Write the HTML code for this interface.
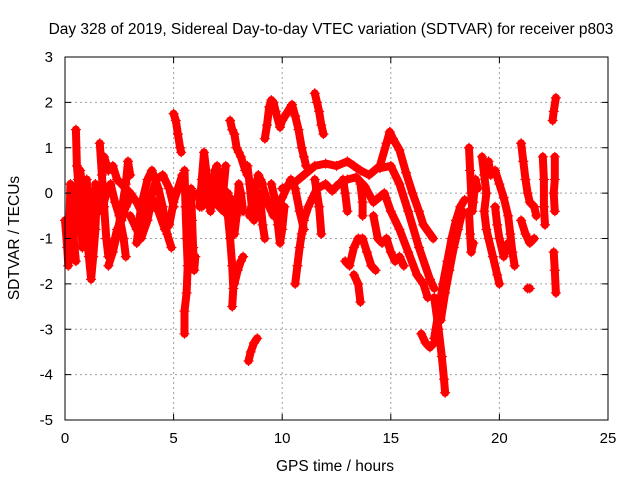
<!DOCTYPE html>
<html><head><meta charset="utf-8"><style>
body{margin:0;background:#fff}
svg{display:block;font-family:"Liberation Sans",sans-serif}
</style></head><body>
<svg id="chart" width="640" height="480" viewBox="0 0 640 480">
<text x="331" y="34" font-size="15.5" text-anchor="middle">Day 328 of 2019, Sidereal Day-to-day VTEC variation (SDTVAR) for receiver p803</text>
<text x="335" y="471" font-size="15.5" text-anchor="middle">GPS time / hours</text>
<text x="19" y="238" font-size="15.5" text-anchor="middle" transform="rotate(-90 19 238)">SDTVAR / TECUs</text>
<g id="grid"></g>
<g id="marks"></g>
<rect x="65" y="57" width="543" height="363" fill="none" stroke="#000" stroke-width="1"/>
<g id="ticks"></g>
</svg>
<script>
const xTicks=[0,5,10,15,20,25];
const yTicks=[-5,-4,-3,-2,-1,0,1,2,3];
const tracks=[
[[0.0,-0.6],[0.1,-1.2],[0.15,-1.6],[0.2,-0.8],[0.25,0.2],[0.3,-0.3],[0.4,-1.0],[0.5,-1.5]],
[[0.5,1.4],[0.55,0.6],[0.6,0.3],[0.65,-0.4],[0.7,-0.9],[0.6,-0.2],[0.7,0.5],[0.8,0.1],[0.75,-0.6],[0.8,-1.2]],
[[1.0,0.3],[1.05,-0.3],[1.0,-0.9],[1.1,-1.4],[1.2,-1.9],[1.3,-1.4],[1.4,-0.8],[1.45,-0.2],[1.4,0.2],[1.3,-0.5],[1.2,-1.0],[1.1,-0.5]],
[[1.6,1.1],[1.7,0.4],[1.8,-0.3],[1.9,-1.0],[2.0,-1.4],[2.2,-1.2],[2.4,-0.8],[2.6,-0.6],[2.8,-0.3],[3.0,-0.1]],
[[1.8,0.8],[2.0,0.5],[2.2,0.6],[2.4,0.3],[2.6,0.2],[2.8,0.1],[3.0,0.0]],
[[1.7,-0.4],[1.9,0.0],[2.1,0.2],[2.3,-0.2],[2.5,-0.5],[2.7,-1.0],[2.8,-1.4]],
[[2.0,-1.6],[2.2,-1.3],[2.4,-0.9],[2.6,-0.4],[2.8,0.2],[2.9,0.7],[3.0,0.4]],
[[3.0,0.0],[3.3,-0.2],[3.6,-0.5],[3.9,-0.2],[4.2,0.3],[4.5,0.4],[4.8,0.1],[5.0,-0.3]],
[[3.0,-0.5],[3.3,-0.8],[3.5,-1.0],[3.8,-0.6],[4.0,-0.1],[4.3,-0.4],[4.6,-0.8],[4.8,-0.7],[5.0,-0.2],[5.2,0.1],[5.4,0.4]],
[[3.3,-1.1],[3.5,-0.3],[3.8,0.3],[4.0,0.5],[4.3,0.1],[4.5,-0.3],[4.7,-0.9],[4.9,-1.2]],
[[5.0,1.75],[5.1,1.6],[5.2,1.3],[5.3,1.0],[5.35,0.9]],
[[5.5,0.5],[5.55,-0.3],[5.6,-1.0],[5.65,-1.6],[5.6,-2.2],[5.5,-2.6],[5.5,-3.1]],
[[5.8,0.1],[5.85,-0.6],[5.9,-1.2],[5.95,-1.7],[6.0,-1.4]],
[[6.2,-0.3],[6.3,0.3],[6.4,0.9],[6.5,0.5],[6.6,-0.1],[6.7,-0.4],[6.8,0.0],[6.9,0.5],[7.0,0.6],[7.1,0.2],[7.2,-0.2],[7.3,0.1],[7.4,0.6]],
[[6.1,0.0],[6.3,-0.3],[6.5,-0.2],[6.7,0.2],[6.9,-0.2],[7.1,-0.3],[7.3,-0.4],[7.5,0.0]],
[[7.6,1.6],[7.7,1.4],[7.8,1.3],[7.9,1.0],[8.0,0.9],[8.1,0.8],[8.3,0.5],[8.4,0.4]],
[[7.5,-0.5],[7.6,-1.0],[7.7,-1.6],[7.75,-2.1],[7.7,-2.5]],
[[7.6,-0.1],[7.7,-0.6],[7.8,-0.9],[7.9,-0.5],[8.0,0.2],[8.1,0.0],[8.2,-0.4]],
[[7.8,-2.0],[7.95,-1.7],[8.1,-1.5],[8.2,-1.4]],
[[8.45,-3.7],[8.55,-3.5],[8.7,-3.3],[8.85,-3.2]],
[[8.4,0.6],[8.5,0.2],[8.6,-0.3],[8.7,-0.6],[8.8,-0.3],[8.9,0.0],[9.0,-0.2],[9.1,-0.7],[9.2,-1.0]],
[[8.5,-0.5],[8.7,0.0],[8.9,0.4],[9.1,0.2]],
[[9.2,1.2],[9.3,1.5],[9.4,1.9],[9.5,2.05],[9.6,2.0],[9.7,1.8],[9.9,1.45],[10.0,1.6],[10.2,1.75],[10.45,1.95],[10.6,1.7],[10.75,1.4],[10.9,1.0],[11.0,0.8],[11.1,0.6]],
[[9.0,0.3],[9.2,0.0],[9.4,-0.3],[9.6,-0.5],[9.8,-0.3],[10.0,-0.1],[10.2,0.1],[10.4,0.3],[10.6,0.1],[10.8,-0.4],[11.0,-0.8]],
[[9.5,0.2],[9.7,-0.2],[9.8,-0.7],[9.9,-1.1],[10.0,-0.8],[10.1,-0.3]],
[[10.0,0.1],[10.5,0.2],[11.0,0.4],[11.5,0.6],[12.0,0.65],[12.5,0.6],[13.0,0.7],[13.3,0.6],[13.6,0.5],[14.0,0.4],[14.5,0.6],[14.8,1.1],[14.95,1.35],[15.1,1.2],[15.4,0.95],[15.7,0.45],[16.0,0.0],[16.3,-0.4],[16.5,-0.7],[16.95,-1.0]],
[[10.6,-2.0],[10.7,-1.6],[10.8,-1.2],[10.9,-0.9],[11.0,-0.6],[11.2,-0.3],[11.4,-0.1],[11.6,0.1],[12.0,0.2],[12.3,0.05],[12.6,0.2],[13.0,0.3],[13.4,0.35],[13.8,0.15],[14.2,-0.2],[14.7,0.0],[15.0,-0.4],[15.4,-0.8],[15.8,-1.3],[16.2,-1.8],[16.5,-2.0],[16.7,-2.3]],
[[14.5,0.55],[15.0,0.6],[15.4,0.2],[15.8,-0.4],[16.3,-1.2],[16.8,-1.9],[17.0,-2.1]],
[[14.2,-0.5],[14.4,-1.0],[14.6,-1.1],[14.8,-1.0],[15.0,-1.3],[15.2,-1.5],[15.4,-1.4],[15.6,-1.6]],
[[12.9,-1.5],[13.1,-1.6],[13.3,-1.2],[13.5,-1.0],[13.7,-1.0],[13.9,-1.3],[14.1,-1.6],[14.3,-1.7]],
[[13.3,-1.8],[13.5,-2.0],[13.6,-2.4]],
[[11.5,0.3],[11.7,-0.3],[11.8,-0.9]],
[[12.8,0.3],[12.9,0.0],[13.0,-0.4]],
[[13.6,0.2],[13.7,-0.2],[13.7,-0.5]],
[[11.5,2.2],[11.6,2.0],[11.7,1.8],[11.8,1.5],[11.9,1.3]],
[[16.4,-3.1],[16.6,-3.3],[16.8,-3.4],[17.0,-3.3]],
[[17.0,-2.3],[17.2,-3.0],[17.35,-3.6],[17.45,-4.1],[17.5,-4.4]],
[[17.0,-3.2],[17.2,-2.6],[17.4,-2.0],[17.6,-1.5],[17.8,-1.0],[18.0,-0.6],[18.2,-0.3],[18.4,-0.15]],
[[17.3,-2.8],[17.5,-2.2],[17.7,-1.7],[17.9,-1.2],[18.1,-0.8],[18.3,-0.4]],
[[18.6,1.0],[18.65,0.5],[18.7,0.0],[18.75,-0.4],[18.8,-0.2],[18.9,0.3],[19.0,0.1]],
[[18.6,-0.4],[18.65,-0.9],[18.7,-1.3],[18.8,-1.1]],
[[19.2,0.8],[19.3,0.4],[19.4,0.0],[19.3,-0.4],[19.4,-0.8],[19.5,-1.0],[19.7,-1.4],[19.9,-1.8],[20.0,-2.0]],
[[19.5,0.7],[19.6,0.4],[19.8,0.5],[20.0,0.2],[20.2,-0.1],[20.4,-0.5],[20.5,-0.9],[20.6,-1.3],[20.7,-1.6]],
[[19.8,-0.3],[19.9,-0.7],[20.0,-1.0],[20.2,-1.4],[20.4,-1.1]],
[[21.0,1.1],[21.1,0.7],[21.2,0.3],[21.3,0.0],[21.4,-0.2],[21.6,-0.3],[21.7,-0.5]],
[[21.0,-0.6],[21.2,-0.9],[21.4,-1.1],[21.6,-1.0]],
[[21.3,-2.1],[21.4,-2.1]],
[[22.0,0.8],[22.05,0.3],[22.05,-0.3],[22.1,-0.7]],
[[22.45,1.6],[22.5,1.8],[22.6,2.1]],
[[22.55,0.8],[22.55,0.3],[22.5,0.0],[22.55,-0.4]],
[[22.5,-1.3],[22.55,-1.7],[22.6,-2.2]]
];
const NS='http://www.w3.org/2000/svg';
const X0=65,X1=608,Y0=420,Y1=57;
function sx(h){return X0+(h-0)/(25-0)*(X1-X0);}
function sy(v){return Y0-(v-(-5))/(3-(-5))*(Y0-Y1);}
function mk(tag,attrs,parent){const e=document.createElementNS(NS,tag);for(const k in attrs)e.setAttribute(k,attrs[k]);parent.appendChild(e);return e;}
const grid=document.getElementById('grid'),ticks=document.getElementById('ticks'),marks=document.getElementById('marks');
xTicks.forEach(t=>{
  const x=sx(t);
  if(t>0&&t<25){const g=mk('line',{x1:x,y1:Y1,x2:x,y2:Y0,stroke:'#a0a0a0','stroke-dasharray':'2,3'},grid);
  
  }
  mk('line',{x1:x,y1:Y0,x2:x,y2:Y0-6,stroke:'#000'},ticks);
  mk('line',{x1:x,y1:Y1,x2:x,y2:Y1+6,stroke:'#000'},ticks);
  const l=mk('text',{x:x,y:Y0+23,'font-size':15,'text-anchor':'middle'},ticks);l.textContent=t;
  
  
});
yTicks.forEach(t=>{
  const y=sy(t);
  if(t>-5&&t<3){const g=mk('line',{x1:X0,y1:y,x2:X1,y2:y,stroke:'#a0a0a0','stroke-dasharray':'2,3'},grid);
  
  }
  mk('line',{x1:X0,y1:y,x2:X0+6,y2:y,stroke:'#000'},ticks);
  mk('line',{x1:X1,y1:y,x2:X1-6,y2:y,stroke:'#000'},ticks);
  const l=mk('text',{x:X0-12,y:y+5,'font-size':15,'text-anchor':'end'},ticks);l.textContent=t;
  
  
});
tracks.forEach(tr=>{
  const pts=tr.map(p=>sx(p[0]).toFixed(1)+','+sy(p[1]).toFixed(1)).join(' ');
  const pl=mk('polyline',{points:pts,fill:'none',stroke:'#ff0000','stroke-width':8,'stroke-linejoin':'round','stroke-linecap':'round'},marks);
  
  
  tr.forEach(p=>{
    const x=sx(p[0]),y=sy(p[1]);
    const m=mk('path',{d:`M${x-5},${y}h10M${x},${y-5}v10`,stroke:'#ff0000','stroke-width':1.2},marks);
    
    
  });
});
</script>
</body></html>
